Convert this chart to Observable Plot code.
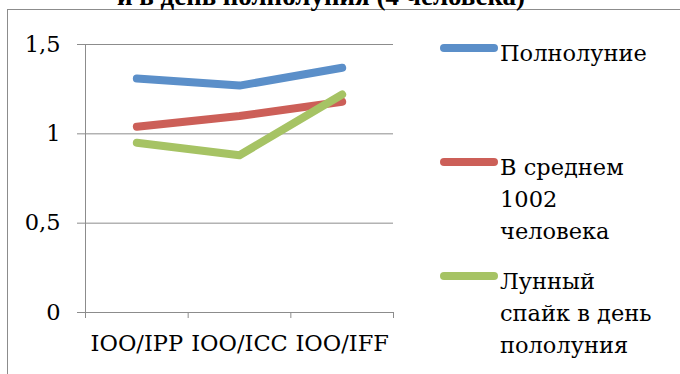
<!DOCTYPE html>
<html>
<head>
<meta charset="utf-8">
<script src="https://cdn.jsdelivr.net/npm/d3@7"></script>
<script src="https://cdn.jsdelivr.net/npm/@observablehq/plot@0.6"></script>
<style>
  html, body { margin: 0; padding: 0; background: #fff; }
  #wrap { position: relative; width: 680px; height: 374px; overflow: hidden; background: #fff; }
  #frame { position: absolute; left: 7px; top: 9px; width: 720px; height: 420px; border: 1px solid #8c8c8c; box-sizing: border-box; }
  #title { position: absolute; left: 0; width: 642px; top: -17px; text-align: center; font-family: "Liberation Serif", serif; font-weight: bold; font-size: 27px; line-height: 27px; white-space: nowrap; color: #000; }
  #chart { position: absolute; left: 0; top: 0; }
  .entry { position: absolute; left: 436px; font-family: "DejaVu Serif", serif; font-size: 22.5px; line-height: 32px; color: #000; }
  .sw { position: absolute; left: 4px; top: 7px; width: 58px; height: 8px; border-radius: 4px; }
  .lbl { position: absolute; left: 64px; top: 0; white-space: nowrap; }
</style>
</head>
<body>
<div id="wrap">
  <div id="frame"></div>
  <div id="title"></div>
  <div id="chart"></div>
  <div id="legend"></div>
</div>
<script>
const titleText = "и в день полнолуния (4 человека)";
const categories = ["IOO/IPP", "IOO/ICC", "IOO/IFF"];
const seriesNames = ["Полнолуние", "В среднем 1002 человека", "Лунный спайк в день пололуния"];
const legendLines = [["Полнолуние"], ["В среднем", "1002", "человека"], ["Лунный", "спайк в день", "пололуния"]];
const fullMoon = [1.31, 1.27, 1.37];
const average1002 = [1.04, 1.10, 1.18];
const lunarSpike = [0.95, 0.88, 1.22];
const yTicks = [0, 0.5, 1, 1.5];
const colors = ["#5b8fc9", "#cc5f58", "#a6c364"];

const seriesValues = [fullMoon, average1002, lunarSpike];
const rows = [];
seriesValues.forEach((vals, s) => vals.forEach((v, i) => rows.push({series: seriesNames[s], idx: i, value: v})));

document.getElementById("title").textContent = titleText;

const chart = Plot.plot({
  width: 680,
  height: 374,
  marginLeft: 85,
  marginRight: 287,
  marginTop: 44,
  marginBottom: 62,
  style: {fontFamily: "'DejaVu Serif', serif", fontSize: "22.5px", color: "#000", background: "transparent", overflow: "visible"},
  x: {domain: [0, categories.length], axis: null},
  y: {domain: [0, 1.5], axis: null},
  color: {domain: seriesNames, range: colors},
  marks: [
    Plot.gridY(yTicks, {stroke: "#8c8c8c", strokeOpacity: 1}),
    Plot.ruleX([0], {stroke: "#8c8c8c"}),
    Plot.axisY(yTicks, {anchor: "left", label: null, tickSize: 8, tickPadding: 17, stroke: "#8c8c8c", fill: "#000", tickFormat: d => String(d).replace(".", ",")}),
    Plot.axisX(d3.range(categories.length + 1), {anchor: "bottom", label: null, tickSize: 6, stroke: "#8c8c8c", tickFormat: () => ""}),
    Plot.axisX(categories.map((c, i) => i + 0.5), {anchor: "bottom", label: null, tickSize: 0, tickPadding: 23, fill: "#000", tickFormat: d => categories[Math.floor(d)]}),
    Plot.line(rows, {x: d => d.idx + 0.5, y: "value", z: "series", stroke: "series", strokeWidth: 8, strokeLinecap: "round", strokeLinejoin: "round"})
  ]
});
document.getElementById("chart").appendChild(chart);

const legend = document.getElementById("legend");
const tops = [37, 151, 265];
legendLines.forEach((lines, s) => {
  const e = document.createElement("div");
  e.className = "entry";
  e.style.top = tops[s] + "px";
  const sw = document.createElement("div");
  sw.className = "sw";
  sw.style.background = colors[s];
  const l = document.createElement("div");
  l.className = "lbl";
  l.innerHTML = lines.join("<br>");
  e.appendChild(sw);
  e.appendChild(l);
  legend.appendChild(e);
});
</script>
</body>
</html>
